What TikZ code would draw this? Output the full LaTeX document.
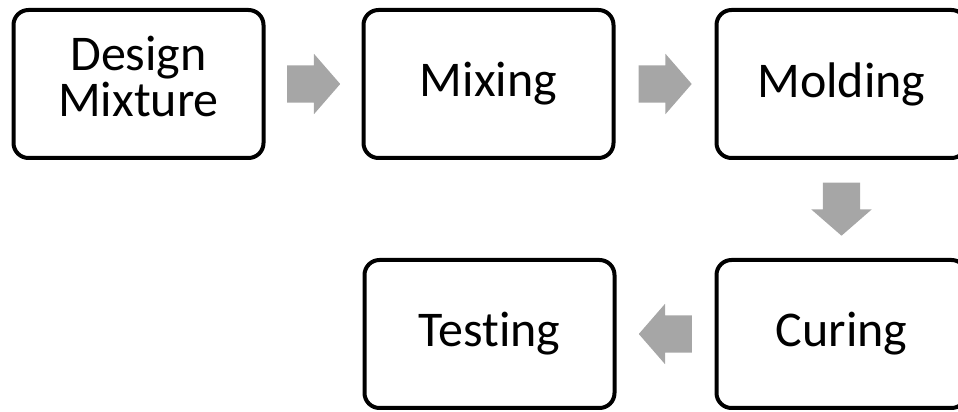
\documentclass[tikz,border=0pt]{standalone}
\usepackage{fontspec}
\setmainfont{Carlito}[Ligatures=NoCommon]
\usetikzlibrary{positioning,calc,shapes.arrows}
\tikzset{
  step box/.style={draw, line width=4pt, rounded corners=15pt, fill=white,
    minimum width=250pt, minimum height=148pt, align=center,
    font=\fontsize{50}{46}\selectfont},
  flow arrow/.style={single arrow, fill=black!35, draw=none, anchor=tail,
    inner xsep=0pt, inner ysep=18.5pt, minimum height=53pt,
    single arrow head extend=11.5pt, single arrow tip angle=98},
}

\begin{document}
\begin{tikzpicture}[node distance=250pt and 352pt, on grid]
  \useasboundingbox (0,0) rectangle (958pt,412pt);
  \node[step box, text depth=15pt] (design) at (138.5pt,328pt) {Design\\Mixture};
  \node[step box, right=350pt of design] (mixing) {Mixing};
  \node[step box, right=353pt of mixing] (molding) {Molding};
  \node[step box, below=of molding] (curing) {Curing};
  \node[step box, left=of curing] (testing) {Testing};

  \node[flow arrow] (a1) at ($(design)!0.5!(mixing)+(-26.5pt,0)$) {};
  \node[flow arrow] (a2) at ($(mixing)!0.5!(molding)+(-26.5pt,0)$) {};
  \node[flow arrow, rotate=-90] (a3) at ($(molding)!0.5!(curing)+(0,26.5pt)$) {};
  \node[flow arrow, rotate=180] (a4) at ($(curing)!0.5!(testing)+(26.5pt,0)$) {};
\end{tikzpicture}
\end{document}
